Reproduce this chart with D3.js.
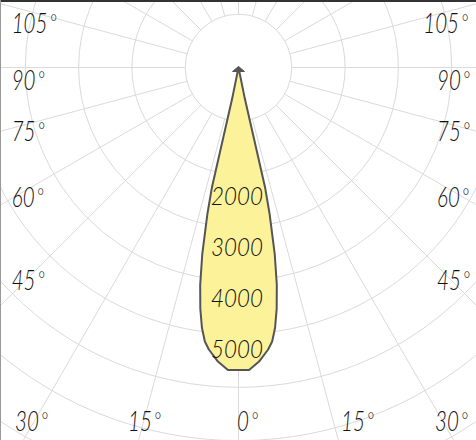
<!DOCTYPE html>
<html>
<head>
<meta charset="utf-8">
<script src="https://cdn.jsdelivr.net/npm/d3@7"></script>
<style>
  html, body { margin: 0; padding: 0; background: #fff; }
  svg { display: block; }
  text { font-family: Lato, "Open Sans", sans-serif; font-style: italic; font-weight: 300; fill: #111; }
</style>
</head>
<body>
<svg id="chart"></svg>
<script>
const width = 476;
const height = 440;

// beam outline, from 0° (straight down) up the side to the tip
const beamAngles = [0, 2, 4, 6, 7, 8, 9, 10, 11, 12, 12.5, 12.3, 11.5, 11];
const beamCandela = [5675, 5680, 5530, 5320, 5180, 4930, 4580, 4140, 3560, 2800, 2300, 1400, 600, 0];

// grid
const ringValues = [1000, 2000, 3000, 4000, 5000, 6000, 7000, 8000];
const spokeAngles = d3.range(0, 360, 15);

// labels
const candelaLabels = ["2000", "3000", "4000", "5000"];
const sideLabels = ["105", "90", "75", "60", "45"];
const bottomLabels = ["30", "15", "0", "15", "30"];

const svg = d3.select("#chart")
    .attr("width", width)
    .attr("height", height);

const cx = 238.5;
const cy = 67.5;
const r = d3.scaleLinear().domain([0, 1000]).range([0, 53.3]);
const rad = Math.PI / 180;

const g = svg.append("g").attr("transform", `translate(${cx},${cy})`);

// rings
g.selectAll("circle.ring")
    .data(ringValues)
    .enter()
    .append("circle")
    .attr("class", "ring")
    .attr("r", d => r(d))
    .attr("fill", "none")
    .attr("stroke", "#dadada")
    .attr("stroke-width", 1);

// spokes start at the first ring
g.selectAll("line.spoke")
    .data(spokeAngles)
    .enter()
    .append("line")
    .attr("x1", d => r(1000) * Math.sin(d * rad))
    .attr("y1", d => r(1000) * Math.cos(d * rad))
    .attr("x2", d => r(10000) * Math.sin(d * rad))
    .attr("y2", d => r(10000) * Math.cos(d * rad))
    .attr("stroke", "#dadada")
    .attr("stroke-width", 1);

// beam: right half then mirrored left half
const pts = beamAngles.map((a, i) => ({ a: a, v: beamCandela[i] }));
const outline = pts.slice().reverse()
    .concat(pts.slice(1).map(p => ({ a: -p.a, v: p.v })));

const radial = d3.lineRadial()
    .angle(d => Math.PI - d.a * rad)
    .radius(d => r(d.v))
    .curve(d3.curveLinearClosed);

g.append("path")
    .attr("d", radial(outline))
    .attr("fill", "#fcf29a")
    .attr("stroke", "#555")
    .attr("stroke-width", 2)
    .attr("stroke-linejoin", "round");

// little arrow head at the source
g.append("path")
    .attr("d", "M-6,4 L0,-1 L6,4 Z")
    .attr("fill", "#555")
    .attr("stroke", "#555")
    .attr("stroke-width", 1);

// candela labels down the beam
const labelY = d3.scaleLinear().domain([2000, 5000]).range([205, 358]);
svg.selectAll("text.cd")
    .data(candelaLabels)
    .enter()
    .append("text")
    .attr("class", "cd")
    .attr("transform", d => `translate(211,${labelY(+d)}) scale(0.86,1)`)
    .attr("font-size", 26)
    .text(d => d);

function degLabel(x, y, txt) {
    const t = svg.append("text")
        .attr("transform", `translate(${x},${y}) scale(0.76,1)`)
        .attr("font-size", 27);
    t.append("tspan").text(txt);
    t.append("tspan").attr("dx", 3).attr("dy", -3).attr("font-size", 22).text("°");
}

// side labels
const sideY = [33, 90, 141, 207, 290];
sideLabels.forEach((lab, i) => {
    degLabel(11.7, sideY[i], lab);
    degLabel(lab.length === 3 ? 423.3 : 437, sideY[i], lab);
});

// bottom labels
const bottomX = [15, 128, 237, 341, 435];
bottomLabels.forEach((lab, i) => degLabel(bottomX[i], 431, lab));

// frame
svg.append("line").attr("x1", 0).attr("x2", width).attr("y1", 1).attr("y2", 1)
    .attr("stroke", "#333").attr("stroke-width", 2);
svg.append("line").attr("x1", 0.5).attr("x2", 0.5).attr("y1", 0).attr("y2", height)
    .attr("stroke", "#999").attr("stroke-width", 1);
</script>
</body>
</html>
